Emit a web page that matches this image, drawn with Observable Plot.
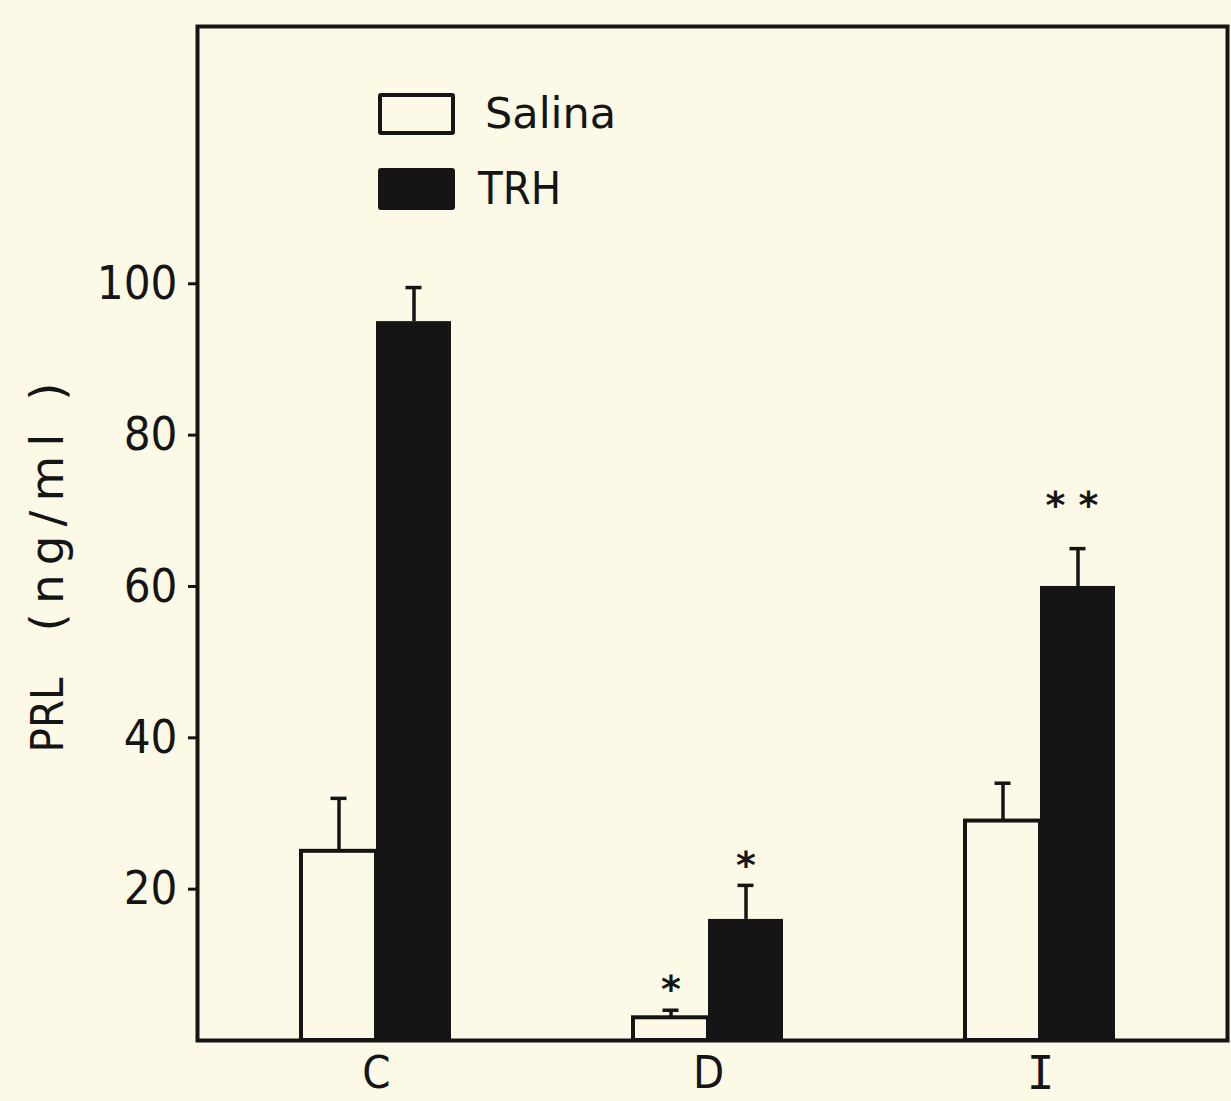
<!DOCTYPE html>
<html>
<head>
<meta charset="utf-8">
<script src="https://cdn.jsdelivr.net/npm/d3@7"></script>
<script src="https://cdn.jsdelivr.net/npm/@observablehq/plot@0.6"></script>
<style>
  html, body { margin: 0; padding: 0; background: #fcfae6; }
  #chart { position: relative; width: 1231px; height: 1101px; background: #fcfae6; overflow: hidden; }
  #chart svg { position: absolute; left: 0; top: 0; }
  .legend { position: absolute; left: 378px; top: 92px; }
  .legend .row { display: flex; align-items: center; height: 43px; margin-bottom: 32px; }
  .legend .swatch { box-sizing: border-box; width: 77px; height: 42px; border: 4px solid #151515; border-radius: 3px; }
  .legend .name { color: #151515; line-height: 1; }
  .ylabel {
    position: absolute; left: 0; top: 0; white-space: nowrap; color: #151515; line-height: 1;
    transform-origin: 0 0;
    transform: translate(46px, 563px) rotate(-90deg) translate(-50%, -50%);
    font-family: 'DejaVu Sans', sans-serif; font-size: 46px;
  }
  .ylabel .main { font-family: 'DejaVu Sans Condensed', 'DejaVu Sans', sans-serif; font-size: 45px; }
  .ylabel .unit { margin-left: 46px; letter-spacing: 9px; font-size: 47px; }
</style>
</head>
<body>
<div id="chart"></div>
<script>
// PRL response to saline vs TRH in three groups (mean + error)
const groups = ["C", "D", "I"];
const series = ["Salina", "TRH"];
const salina = [25, 3, 29];
const salinaErr = [7, 1, 5];
const trh = [95, 16, 60];
const trhErr = [4.5, 4.5, 5];
const salinaStars = ["", "*", ""];
const trhStars = ["", "*", "* *"];
const yTicks = [20, 40, 60, 80, 100];
const yTitle = ["PRL", "(ng/ml )"];

const ink = "#151515";
const paper = "#fcfae6";
const narrow = "'Liberation Sans Narrow', 'DejaVu Sans Condensed', 'Liberation Sans', sans-serif";

const salinaRows = groups.map((g, i) => ({group: g, value: salina[i], err: salinaErr[i], star: salinaStars[i]}));
const trhRows = groups.map((g, i) => ({group: g, value: trh[i], err: trhErr[i], star: trhStars[i]}));

const half = 75; // each series takes half of a group's band

function errorBars(rows, dx) {
  return [
    Plot.ruleX(rows, {x: "group", y1: "value", y2: d => d.value + d.err, dx, stroke: ink, strokeWidth: 3.5}),
    Plot.tickY(rows, {x: "group", y: d => d.value + d.err, dx, insetLeft: 67, insetRight: 67, stroke: ink, strokeWidth: 3.5})
  ];
}

const starStyle = {fontSize: 38, fontWeight: "bold", fontFamily: "DejaVu Sans", fill: ink};

const chart = Plot.plot({
  width: 1231,
  height: 1101,
  marginLeft: 197,
  marginRight: 4,
  marginTop: 26,
  marginBottom: 61,
  style: {background: "transparent", color: ink},
  x: {domain: groups, range: [300, 1115], paddingInner: 0.5489, paddingOuter: 0},
  y: {domain: [0, 134]},
  marks: [
    Plot.barY(trhRows, {x: "group", y: "value", insetLeft: half, fill: ink}),
    Plot.barY(salinaRows, {x: "group", y: "value", insetRight: half, fill: paper, stroke: ink, strokeWidth: 4}),
    ...errorBars(salinaRows, -half / 2),
    ...errorBars(trhRows, half / 2),
    Plot.text(salinaRows.filter(d => d.star === "*"), {x: "group", y: d => d.value + d.err, text: "star", dx: -half / 2, dy: -20, ...starStyle}),
    Plot.text(trhRows.filter(d => d.star === "*"), {x: "group", y: d => d.value + d.err, text: "star", dx: half / 2, dy: -20, ...starStyle}),
    Plot.text(trhRows.filter(d => d.star === "* *"), {x: "group", y: d => d.value + d.err, text: "star", dx: half / 2 - 6, dy: -43, ...starStyle}),
    Plot.frame({stroke: ink, strokeWidth: 4}),
    Plot.axisY({ticks: yTicks, tickSize: 9, tickPadding: 11, fontSize: 47, fontFamily: narrow, strokeWidth: 3, label: null, color: ink}),
    Plot.axisX(["C", "D"], {tickSize: 0, tickPadding: 16, fontSize: 45, fontFamily: narrow, label: null, color: ink}),
    Plot.axisX(["I"], {tickSize: 0, tickPadding: 16, fontSize: 46, fontFamily: "'DejaVu Sans Mono', monospace", label: null, color: ink, stroke: ink, strokeWidth: 1.2})
  ]
});

const root = document.getElementById("chart");
root.appendChild(chart);

// y-axis title, rotated along the left edge
const ylab = document.createElement("div");
ylab.className = "ylabel";
const main = document.createElement("span");
main.className = "main";
main.textContent = yTitle[0];
const unit = document.createElement("span");
unit.className = "unit";
unit.textContent = yTitle[1];
ylab.appendChild(main);
ylab.appendChild(unit);
root.appendChild(ylab);

// legend drawn over the upper-left of the plot area
const legend = document.createElement("div");
legend.className = "legend";
const fills = [paper, ink];
const gaps = [30, 23];
const fonts = [["'DejaVu Sans', sans-serif", 43], [narrow, 45]];
series.forEach((name, i) => {
  const row = document.createElement("div");
  row.className = "row";
  const sw = document.createElement("div");
  sw.className = "swatch";
  sw.style.background = fills[i];
  const label = document.createElement("div");
  label.className = "name";
  label.textContent = name;
  label.style.marginLeft = gaps[i] + "px";
  label.style.fontFamily = fonts[i][0];
  label.style.fontSize = fonts[i][1] + "px";
  row.appendChild(sw);
  row.appendChild(label);
  legend.appendChild(row);
});
root.appendChild(legend);
</script>
</body>
</html>
